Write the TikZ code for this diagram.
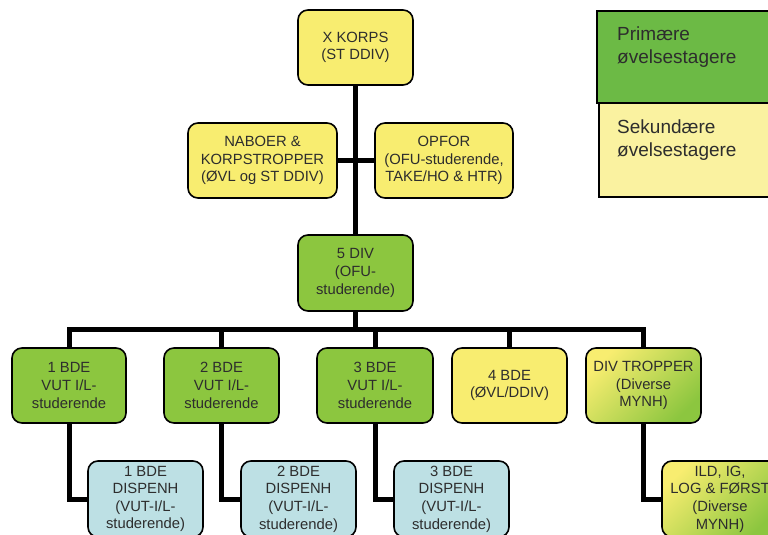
\documentclass[tikz,border=0pt]{standalone}
\usepackage{fontspec}
\setmainfont{Liberation Sans}
\usetikzlibrary{calc,backgrounds}

\definecolor{BoxYellow}{RGB}{248,237,112}
\definecolor{BoxGreen}{RGB}{140,198,63}
\definecolor{BoxBlue}{RGB}{189,224,228}
\definecolor{LegGreen}{RGB}{108,186,69}
\definecolor{LegYellow}{RGB}{250,242,160}
\definecolor{TextGray}{RGB}{45,45,45}

\begin{document}
\begin{tikzpicture}[x=1pt,y=-1pt]
          \useasboundingbox (0,0) rectangle (768,535);
          \clip (0,0) rectangle (768,535);
          \tikzset{BoxStyle/.style = {draw=black, line width=1.6pt, rounded corners=10pt,
              text=TextGray, align=center, inner sep=0pt,
              font=\fontsize{14.8}{17.6}\selectfont,
              minimum width=115pt, minimum height=75pt}};
          \tikzset{EdgeStyle/.style = {line width=5pt, black}};
          \tikzset{LegendText/.style = {anchor=west, align=left, text=TextGray,
              font=\fontsize{19}{23}\selectfont, inner sep=0pt}};

          % legend
          \draw[fill=LegGreen, line width=1.4pt] (597,11) rectangle (790,103);
          \draw[fill=LegYellow, line width=1.4pt] (599,103) rectangle (790,197);
          \node[LegendText] (legprim) at (617,47) {Primære\\øvelsestagere};
          \node[LegendText] (legsek) at (617,140) {Sekundære\\øvelsestagere};

          % corps level
          \node[BoxStyle, fill=BoxYellow] (korps) at (355.5,47.5) {X KORPS\\(ST DDIV)};
          \node[BoxStyle, fill=BoxYellow, minimum width=149pt] (naboer) at (262.5,160.5)
              {NABOER \&\\KORPSTROPPER\\(ØVL og ST DDIV)};
          \node[BoxStyle, fill=BoxYellow, minimum width=138pt] (opfor) at (444,160.5)
              {OPFOR\\(OFU-studerende,\\TAKE/HO \& HTR)};

          % division
          \node[BoxStyle, fill=BoxGreen, minimum height=76pt] (div) at (355.5,273)
              {5 DIV\\(OFU-\\studerende)};

          % brigades
          \node[BoxStyle, fill=BoxGreen, minimum width=114pt] (bde1) at (69,385.5) {1 BDE\\VUT I/L-\\studerende};
          \node[BoxStyle, fill=BoxGreen] (bde2) at (221.5,385.5) {2 BDE\\VUT I/L-\\studerende};
          \node[BoxStyle, fill=BoxGreen, minimum width=116pt] (bde3) at (375,385.5) {3 BDE\\VUT I/L-\\studerende};
          \node[BoxStyle, fill=BoxYellow] (bde4) at (509.5,385.5) {4 BDE\\(ØVL/DDIV)};
          \node[BoxStyle, top color=BoxYellow, bottom color=BoxGreen, shading angle=45]
              (divtr) at (643.5,385.5) {DIV TROPPER\\(Diverse\\MYNH)};

          % support units
          \node[BoxStyle, fill=BoxBlue, minimum height=76pt] (disp1) at (145.5,499)
              {1 BDE\\DISPENH\\(VUT-I/L-\\studerende)};
          \node[BoxStyle, fill=BoxBlue, minimum height=76pt] (disp2) at (298.5,499)
              {2 BDE\\DISPENH\\(VUT-I/L-\\studerende)};
          \node[BoxStyle, fill=BoxBlue, minimum height=76pt] (disp3) at (451.5,499)
              {3 BDE\\DISPENH\\(VUT-I/L-\\studerende)};
          \node[BoxStyle, top color=BoxYellow, bottom color=BoxGreen, shading angle=45,
              minimum width=116pt, minimum height=76pt] (ild) at (720,499)
              {ILD, IG,\\LOG \& FØRST\\(Diverse\\MYNH)};

          % connectors
          \coordinate (bus) at (355.5,329);
          \begin{scope}[on background layer]
          \draw[EdgeStyle] (korps.south) -- (div.north);
          \draw[EdgeStyle] (naboer.east) -- (opfor.west);
          \draw[EdgeStyle] (div.south) -- (bus);
          \foreach \b in {bde1,bde2,bde3,bde4,divtr}
              \draw[EdgeStyle] (bus) -| (\b.north);
          \draw[EdgeStyle] (bde1.south) |- (disp1.west);
          \draw[EdgeStyle] (bde2.south) |- (disp2.west);
          \draw[EdgeStyle] (bde3.south) |- (disp3.west);
          \draw[EdgeStyle] (divtr.south) |- (ild.west);
          \end{scope}
\end{tikzpicture}
\end{document}
